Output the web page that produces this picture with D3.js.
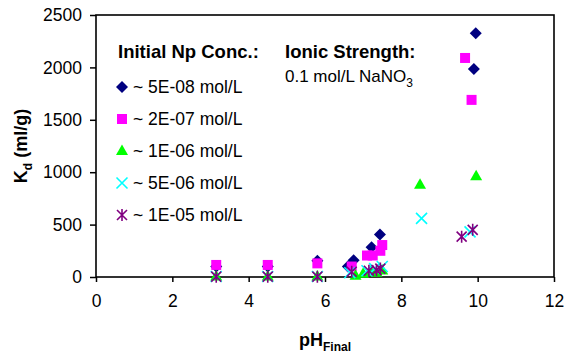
<!DOCTYPE html>
<html>
<head>
<meta charset="utf-8">
<script src="https://cdn.jsdelivr.net/npm/d3@7"></script>
<style>
  body { margin: 0; background: #fff; }
  svg { font-family: "Liberation Sans", Arial, sans-serif; }
</style>
</head>
<body>
<svg id="chart" width="566" height="356"></svg>
<script>
// pH final vs Kd (ml/g), one array per initial Np concentration
const conc5e8 = [[3.15, 100], [4.5, 100], [5.8, 155], [6.6, 100], [6.75, 160], [7.22, 285], [7.44, 405], [9.9, 1985], [9.95, 2325]]
const conc2e7 = [[3.15, 115], [4.5, 115], [5.8, 130], [6.7, 100], [7.1, 205], [7.25, 205], [7.45, 250], [7.5, 305], [9.67, 2090], [9.84, 1690]]
const conc1e6 = [[3.15, 5], [4.5, 5], [5.8, 5], [6.8, 10], [7.0, 30], [7.2, 50], [7.35, 40], [7.5, 60], [8.49, 880], [9.96, 960]]
const conc5e6 = [[3.15, 5], [4.5, 5], [5.8, 5], [6.65, 40], [7.1, 60], [7.3, 80], [7.5, 100], [8.53, 560], [9.8, 430]]
const conc1e5 = [[3.15, 3], [4.5, 3], [5.8, 3], [6.7, 50], [7.15, 60], [7.35, 65], [7.45, 80], [9.58, 385], [9.87, 450]]

const seriesNames = ["~ 5E-08 mol/L", "~ 2E-07 mol/L", "~ 1E-06 mol/L", "~ 5E-06 mol/L", "~ 1E-05 mol/L"]
const xTicks = [0, 2, 4, 6, 8, 10, 12]
const yTicks = [0, 500, 1000, 1500, 2000, 2500]

const margin = { top: 15, left: 96, right: 12, bottom: 79 },
      width = 566 - margin.left - margin.right,
      height = 356 - margin.top - margin.bottom

const svg = d3.select("#chart")
const g = svg.append("g").attr("transform", "translate(" + margin.left + "," + margin.top + ")")

const x = d3.scaleLinear().domain([0, 12]).range([0, width])
const y = d3.scaleLinear().domain([0, 2500]).range([height, 0])

// marker shapes
const shapes = {
  diamond: (r) => "M0," + (-r) + "L" + r + ",0L0," + r + "L" + (-r) + ",0Z",
  square: (r) => "M" + (-r) + "," + (-r) + "h" + 2 * r + "v" + 2 * r + "h" + (-2 * r) + "Z",
  triangle: (r) => "M0," + (-r * 1.1) + "L" + r + "," + r * 0.65 + "L" + (-r) + "," + r * 0.65 + "Z",
  cross: (r) => "M" + (-r) + "," + (-r) + "L" + r + "," + r + "M" + r + "," + (-r) + "L" + (-r) + "," + r,
  star: (r) => "M" + (-r) + "," + (-r) + "L" + r + "," + r + "M" + r + "," + (-r) + "L" + (-r) + "," + r + "M0," + (-r * 1.2) + "V" + r * 1.2
}

const series = [
  { name: seriesNames[0], data: conc5e8, shape: "diamond", r: 6, color: "#000080", fill: true },
  { name: seriesNames[1], data: conc2e7, shape: "square", r: 5, color: "#ff00ff", fill: true },
  { name: seriesNames[2], data: conc1e6, shape: "triangle", r: 6, color: "#00ff00", fill: true },
  { name: seriesNames[3], data: conc5e6, shape: "cross", r: 5.5, color: "#00ffff", fill: false },
  { name: seriesNames[4], data: conc1e5, shape: "star", r: 5, color: "#800080", fill: false }
]

function styleMarker (sel, s) {
  sel.attr("d", shapes[s.shape](s.r))
    .attr("fill", s.fill ? s.color : "none")
    .attr("stroke", s.fill ? "none" : s.color)
    .attr("stroke-width", s.fill ? 0 : 1.6)
}

// axes
const xAxis = g.append("g")
    .attr("transform", "translate(0," + height + ")")
    .call(d3.axisBottom(x).tickValues(xTicks).tickSize(5).tickPadding(13))
const yAxis = g.append("g")
    .call(d3.axisLeft(y).tickValues(yTicks).tickFormat(d3.format("d")).tickSize(6).tickPadding(8))

;[xAxis, yAxis].forEach((a) => {
  a.select(".domain").remove()
  a.selectAll("line").attr("stroke", "#000").attr("stroke-width", 1.5)
  a.selectAll("text").attr("fill", "#000").style("font-size", "17.5px")
})

// plot frame
g.append("rect")
    .attr("width", width)
    .attr("height", height)
    .attr("fill", "none")
    .attr("stroke", "#000")
    .attr("stroke-width", 1.6)

// points
series.forEach((s) => {
  g.append("g").selectAll("path")
    .data(s.data)
    .enter()
    .append("path")
      .attr("transform", (d) => "translate(" + x(d[0]) + "," + y(d[1]) + ")")
      .call(styleMarker, s)
})

// legend
const legend = svg.append("g")
legend.append("text")
    .attr("x", 118).attr("y", 58)
    .style("font-size", "18.5px").style("font-weight", "bold")
    .text("Initial Np Conc.:")

const item = legend.selectAll(".item")
    .data(series)
    .enter()
    .append("g")
      .attr("class", "item")
      .attr("transform", (d, i) => "translate(122," + (87 + i * 32) + ")")
item.append("path").each(function (d) { d3.select(this).call(styleMarker, d) })
item.append("text")
    .attr("x", 11).attr("y", 6)
    .style("font-size", "17.5px")
    .text((d) => d.name)

legend.append("text")
    .attr("x", 285).attr("y", 58)
    .style("font-size", "18.5px").style("font-weight", "bold")
    .text("Ionic Strength:")
const note = legend.append("text")
    .attr("x", 285).attr("y", 82)
    .style("font-size", "17px")
note.append("tspan").text("0.1 mol/L NaNO")
note.append("tspan").attr("dy", 5).style("font-size", "12px").text("3")

// axis titles
const xt = svg.append("text")
    .attr("x", margin.left + width / 2).attr("y", 346)
    .attr("text-anchor", "middle")
    .style("font-weight", "bold").style("font-size", "18px")
xt.append("tspan").text("pH")
xt.append("tspan").attr("dy", 5).style("font-size", "12px").text("Final")

const yt = svg.append("text")
    .attr("transform", "translate(27," + (margin.top + height / 2) + ") rotate(-90)")
    .attr("text-anchor", "middle")
    .style("font-weight", "bold").style("font-size", "18px")
yt.append("tspan").text("K")
yt.append("tspan").attr("dy", 5).style("font-size", "12px").text("d")
yt.append("tspan").attr("dy", -5).text(" (ml/g)")
</script>
</body>
</html>
